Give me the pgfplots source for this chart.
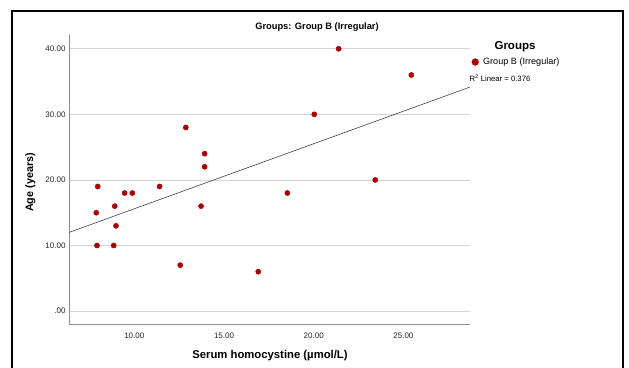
\documentclass[border=0pt]{standalone}
\usepackage{fontspec}
\setmainfont{Liberation Sans}
\usepackage{pgfplots}
\pgfplotsset{compat=1.18}
\definecolor{dotred}{RGB}{168,0,0}
\definecolor{gridc}{RGB}{212,212,212}
\definecolor{axc}{RGB}{140,140,140}
\begin{document}
\begin{tikzpicture}[x=1pt,y=1pt]
\useasboundingbox (0,0) rectangle (629,367);
\draw[line width=2pt] (11.5,-20) -- (11.5,355.5) -- (623.3,355.5) -- (623.3,-20);
\begin{axis}[
  at={(69pt,42.3pt)}, anchor=south west,
  scale only axis, width=401pt, height=289.7pt,
  xmin=6.36, xmax=28.71, ymin=-2.08, ymax=42.1,
  axis x line*=bottom, axis y line*=left,
  axis line style={axc, line width=0.8pt},
  xtick={10,15,20,25}, xticklabels={10.00,15.00,20.00,25.00},
  ytick={0,10,20,30,40}, yticklabels={.00,10.00,20.00,30.00,40.00},
  major tick length=0pt,
  ymajorgrids, grid style={gridc, line width=0.8pt},
  tick label style={font=\fontsize{8}{9}\selectfont, text=black!85},
  xticklabel style={yshift=-4.3pt},
  legend style={at={(axis description cs:1,0.9067)}, xshift=1.8pt, anchor=west, draw=none, fill=none,
    font=\fontsize{9.1}{10}\selectfont, inner sep=0pt, outer sep=0pt},
  legend image code/.code={\draw[#1, mark size=3.4pt] plot coordinates {(0pt,0pt)};},
  legend cell align=left,
]
\addplot[only marks, mark=*, mark size=2.6pt, color=dotred, mark options={draw=dotred, fill=dotred}]
  coordinates {
  (7.96,19) (9.46,18) (9.89,18) (11.41,19) (12.87,28) (13.92,24) (13.92,22)
  (18.53,18) (20.03,30) (21.39,40) (25.44,36) (23.43,20) (7.88,15) (7.92,10)
  (8.91,16) (8.98,13) (8.85,10) (12.56,7) (13.72,16) (16.91,6)
  };
\addlegendentry{\hspace{2.5pt}Group B (Irregular)}
\addplot[black!75, line width=0.6pt, forget plot] coordinates {(6.36,11.99) (28.71,34.16)};
\end{axis}
\node[anchor=base, inner sep=0pt, font=\bfseries\fontsize{9.3}{11}\selectfont] at (317,337.3) {Groups: Group B (Irregular)};
\node[anchor=base, inner sep=0pt, font=\bfseries\fontsize{11.5}{13}\selectfont] at (515,317.7) {Groups};
\node[anchor=base west, inner sep=0pt, font=\fontsize{7.7}{9}\selectfont] at (469.5,285.3) {R\textsuperscript{2} Linear = 0.376};
\node[anchor=base, inner sep=0pt, rotate=90, font=\bfseries\fontsize{10.8}{12}\selectfont] at (33,184.5) {Age (years)};
\node[anchor=base, inner sep=0pt, font=\bfseries\fontsize{11.3}{13}\selectfont] at (270,8.7) {Serum homocystine (µmol/L)};
\end{tikzpicture}
\end{document}
